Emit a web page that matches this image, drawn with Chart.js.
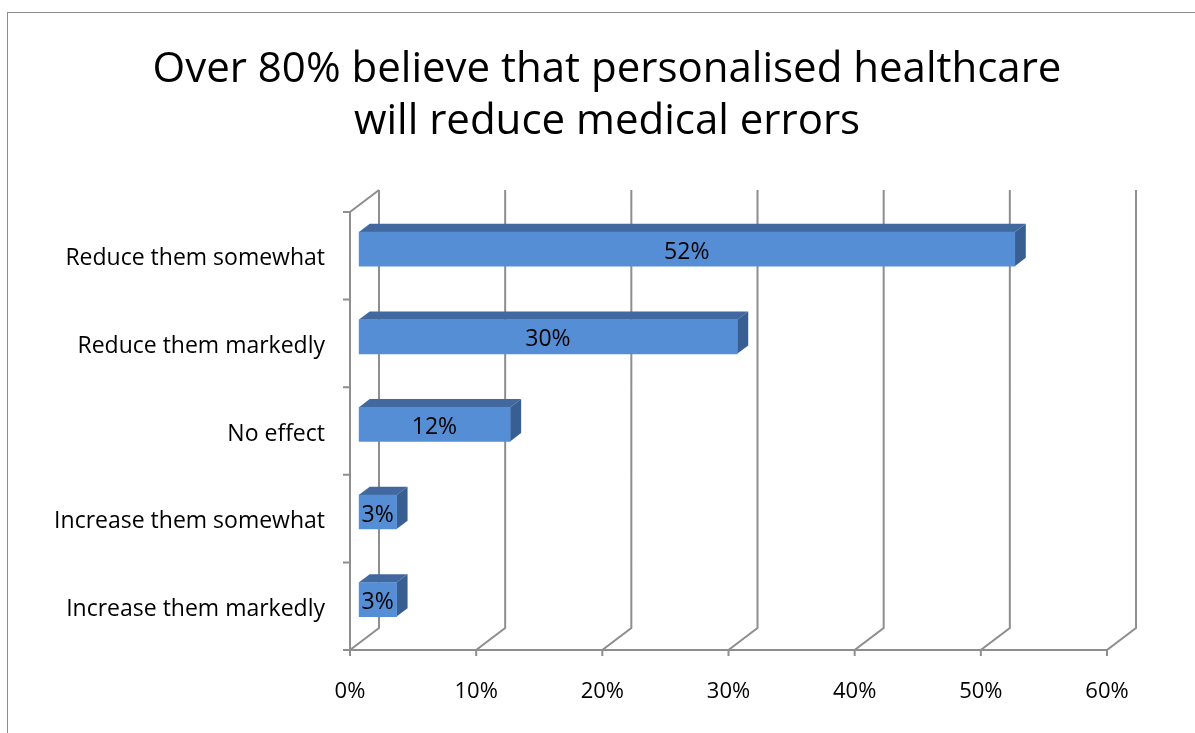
<!DOCTYPE html>
<html>
<head>
<meta charset="utf-8">
<title>Personalised healthcare and medical errors</title>
<script src="https://cdn.jsdelivr.net/npm/chart.js@4/dist/chart.umd.min.js"></script>
<style>
  html, body { margin: 0; padding: 0; background: #ffffff; }
  #wrap { position: relative; width: 1195px; height: 733px; overflow: hidden; }
  #frame {
    position: absolute; left: 7px; top: 12px; width: 1300px; height: 800px;
    border: 1.5px solid #8c8c8c; box-sizing: border-box;
  }
  canvas { position: absolute; left: 0; top: 0; }
</style>
</head>
<body>
<div id="wrap">
  <div id="frame"></div>
  <canvas id="chart" width="1195" height="733"></canvas>
</div>
<script>
// Survey answers, listed top to bottom
const categories = [
  'Reduce them somewhat',
  'Reduce them markedly',
  'No effect',
  'Increase them somewhat',
  'Increase them markedly'
];
const shares = [52, 30, 12, 3, 3];
const axisTicks = [0, 10, 20, 30, 40, 50, 60];

const titleLines = [
  'Over 80% believe that personalised healthcare',
  'will reduce medical errors'
];

const FONT = '"Open Sans", "DejaVu Sans", sans-serif';
const GRID = '#8e8e8e';
const FACE = '#558ed5';
const TOP_FACE = '#41699f';
const SIDE_FACE = '#395f92';

// Box depth of the plot (back wall offset) and the bars' position inside it
const DEPTH = { dx: 29, dy: -22 };
const BAR_FRONT = 0.3;  // bars sit 30% of the way into the box
const BAR_DEPTH = 0.38; // bar thickness along the depth axis

const box3d = {
  id: 'box3d',
  beforeDatasetsDraw(chart) {
    const { ctx, chartArea: a, scales: { x } } = chart;
    ctx.save();
    ctx.strokeStyle = GRID;
    ctx.lineWidth = 2;
    ctx.lineCap = 'butt';
    ctx.beginPath();
    // back wall gridlines plus floor diagonals and tick marks
    axisTicks.forEach(v => {
      const px = x.getPixelForValue(v);
      ctx.moveTo(px + DEPTH.dx, a.top + DEPTH.dy);
      ctx.lineTo(px + DEPTH.dx, a.bottom + DEPTH.dy);
      ctx.lineTo(px, a.bottom);
      ctx.lineTo(px, a.bottom + 6);
    });
    // front axis lines
    ctx.moveTo(a.left, a.bottom);
    ctx.lineTo(a.right, a.bottom);
    ctx.moveTo(a.left, a.bottom);
    ctx.lineTo(a.left, a.top);
    ctx.lineTo(a.left + DEPTH.dx, a.top + DEPTH.dy);
    // category boundary ticks on the vertical axis
    const step = (a.bottom - a.top) / categories.length;
    for (let i = 0; i <= categories.length; i++) {
      const py = a.top + i * step;
      ctx.moveTo(a.left - 7, py);
      ctx.lineTo(a.left, py);
    }
    ctx.stroke();

    // top and end faces of every bar
    const fx = DEPTH.dx * BAR_FRONT, fy = DEPTH.dy * BAR_FRONT;
    const ex = DEPTH.dx * BAR_DEPTH, ey = DEPTH.dy * BAR_DEPTH;
    chart.getDatasetMeta(0).data.forEach(bar => {
      const p = bar.getProps(['x', 'y', 'base', 'height'], true);
      const l = p.base + fx, r = p.x + fx;
      const t = p.y - p.height / 2 + fy, b = p.y + p.height / 2 + fy;
      ctx.fillStyle = TOP_FACE;
      ctx.beginPath();
      ctx.moveTo(l, t);
      ctx.lineTo(l + ex, t + ey);
      ctx.lineTo(r + ex, t + ey);
      ctx.lineTo(r, t);
      ctx.closePath();
      ctx.fill();
      ctx.fillStyle = SIDE_FACE;
      ctx.beginPath();
      ctx.moveTo(r, t);
      ctx.lineTo(r + ex, t + ey);
      ctx.lineTo(r + ex, b + ey);
      ctx.lineTo(r, b);
      ctx.closePath();
      ctx.fill();
    });
    ctx.restore();

    // the front faces are drawn by Chart.js, shifted into the box
    ctx.save();
    ctx.translate(fx, fy);
  },
  afterDatasetsDraw(chart) {
    const { ctx } = chart;
    ctx.restore();
    const fx = DEPTH.dx * BAR_FRONT, fy = DEPTH.dy * BAR_FRONT;
    ctx.save();
    ctx.fillStyle = '#000000';
    ctx.font = '23px ' + FONT;
    ctx.textAlign = 'center';
    ctx.textBaseline = 'middle';
    chart.getDatasetMeta(0).data.forEach((bar, i) => {
      const p = bar.getProps(['x', 'y', 'base'], true);
      ctx.fillText(shares[i] + '%', (p.x + p.base) / 2 + fx, p.y + fy + 3);
    });
    ctx.restore();
  }
};

new Chart(document.getElementById('chart'), {
  type: 'bar',
  data: {
    labels: categories,
    datasets: [{
      data: shares,
      backgroundColor: FACE,
      borderWidth: 0,
      barThickness: 34
    }]
  },
  options: {
    indexAxis: 'y',
    responsive: false,
    animation: false,
    layout: { padding: { left: 19, right: 0, top: 0, bottom: 0 } },
    plugins: {
      legend: { display: false },
      tooltip: { enabled: false },
      title: {
        display: true,
        text: titleLines,
        color: '#000000',
        font: { family: FONT, size: 42, weight: 'normal', lineHeight: '52px' },
        padding: { top: 44, bottom: 64 }
      }
    },
    scales: {
      x: {
        min: 0,
        max: 60,
        grid: { display: false, drawTicks: false },
        border: { display: false },
        afterFit(scale) { scale.height = 83; },
        afterBuildTicks(scale) { scale.ticks = axisTicks.map(v => ({ value: v })); },
        ticks: {
          padding: 29,
          color: '#000000',
          font: { family: FONT, size: 22 },
          callback: v => v + '%'
        }
      },
      y: {
        grid: { display: false, drawTicks: false },
        border: { display: false },
        afterFit(scale) { scale.width = 331; },
        ticks: {
          padding: 25,
          labelOffset: 3,
          color: '#000000',
          font: { family: FONT, size: 23 }
        }
      },
      // empty right-hand margin beside the plot box
      margin: {
        type: 'category',
        axis: 'y',
        position: 'right',
        labels: [],
        grid: { display: false, drawTicks: false },
        border: { display: false },
        ticks: { display: false },
        afterFit(scale) { scale.width = 88; }
      }
    }
  },
  plugins: [box3d]
});
</script>
</body>
</html>
